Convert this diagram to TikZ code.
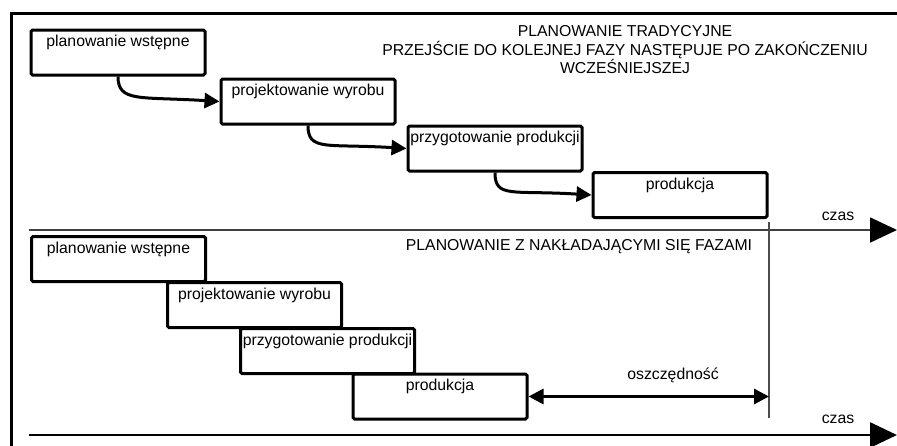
\documentclass[tikz,border=0pt]{standalone}
\usepackage{fontspec}
\setmainfont{Liberation Sans}
\usetikzlibrary{arrows.meta,calc}
\begin{document}
\begin{tikzpicture}[x=1pt,y=-1pt,
  every node/.style={font=\fontsize{15.8}{18.5}\selectfont},
  phase/.style={draw, line width=3pt, rounded corners=1.5pt, minimum width=174pt, minimum height=45pt, inner sep=0pt},
  lbl/.style={anchor=base, yshift=-18pt, inner sep=0pt},
  conn/.style={line width=3pt, -{Triangle[length=15pt,width=15pt]}},
  dbl/.style={line width=3pt, {Triangle[length=15pt,width=15pt]}-{Triangle[length=15pt,width=15pt]}},
  timeaxis/.style={-{Triangle[length=27pt,width=25pt,color=black]}},
  plain/.style={inner sep=0pt}]
\useasboundingbox (0,0) rectangle (897,445);
\clip (0,0) rectangle (897,445);
% frame
\coordinate (fbl) at (11,450);
\coordinate (ftl) at (11,13);
\coordinate (ftr) at (900,13);
\draw[line width=3pt] (fbl) -- (ftl) -- (ftr);
% traditional planning
\node[phase, label={[lbl]north:planowanie wstępne}] (b1) at (118,52.5) {};
\node[phase, label={[lbl]north:projektowanie wyrobu}] (b2) at (308,101.5) {};
\node[phase, label={[lbl]north:przygotowanie produkcji}] (b3) at (495,148.5) {};
\node[phase, label={[lbl]north:produkcja}] (b4) at (680,195) {};
\draw[conn] (b1.south) .. controls +(0,26) and +(-80,-5) .. (b2.west);
\draw[conn] (b2.south) .. controls +(0,26) and +(-80,-5) .. (b3.west);
\draw[conn] (b3.south) .. controls +(0,26) and +(-80,-5) .. (b4.west);
\node[plain, align=center] (t1) at (625,50) {PLANOWANIE TRADYCYJNE\\PRZEJŚCIE DO KOLEJNEJ FAZY NASTĘPUJE PO ZAKOŃCZENIU\\WCZEŚNIEJSZEJ};
% first time axis
\coordinate (a1s) at (29,230);
\coordinate (a1e) at (897,230);
\draw[timeaxis, line width=1.8pt, draw=black!75] (a1s) -- (a1e);
\node[plain] (cz1) at (838,216) {czas};
% overlapping planning
\node[plain] (t2) at (579,247) {PLANOWANIE Z NAKŁADAJĄCYMI SIĘ FAZAMI};
\node[phase, label={[lbl]north:planowanie wstępne}] (c1) at (118.5,259) {};
\node[phase, label={[lbl]north:projektowanie wyrobu}] (c2) at (254.5,305) {};
\node[phase, label={[lbl]north:przygotowanie produkcji}] (c3) at (327.5,351) {};
\node[phase, label={[lbl]north:produkcja}] (c4) at (440,396.5) {};
% end marker
\coordinate (vt) at (769,222);
\coordinate (vb) at (769,418);
\draw[line width=1.2pt, draw=black!70] (vt) -- (vb);
\draw[dbl] (c4.east) -- (c4.east -| vt);
\node[plain] (osz) at (673,375) {oszczędność};
% second time axis
\coordinate (a2s) at (29,435);
\coordinate (a2e) at (897,435);
\draw[timeaxis, line width=2.6pt] (a2s) -- (a2e);
\node[plain] (cz2) at (838,419) {czas};
\end{tikzpicture}
\end{document}
